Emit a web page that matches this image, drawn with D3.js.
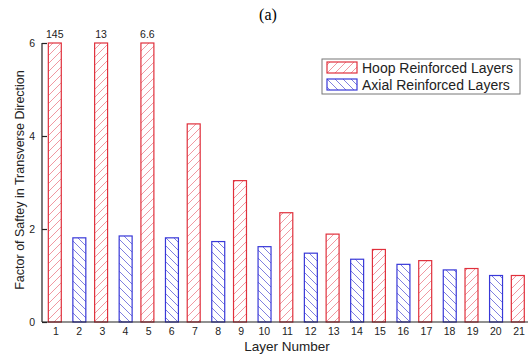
<!DOCTYPE html>
<html>
<head>
<meta charset="utf-8">
<script src="https://cdn.jsdelivr.net/npm/d3@7/dist/d3.min.js"></script>
<style>
  html, body { margin: 0; padding: 0; background: #fff; }
  svg { display: block; font-family: Arial, "Liberation Sans", sans-serif; }
</style>
</head>
<body>
<svg id="chart" width="528" height="360"></svg>
<script>
// Layers 1..21: odd layers are hoop reinforced, even layers are axial reinforced
const hoopLayers  = [1, 3, 5, 7, 9, 11, 13, 15, 17, 19, 21];
const hoopValues  = [145, 13, 6.6, 4.26, 3.04, 2.35, 1.89, 1.56, 1.32, 1.15, 1.00];
const axialLayers = [2, 4, 6, 8, 10, 12, 14, 16, 18, 20];
const axialValues = [1.81, 1.85, 1.81, 1.73, 1.62, 1.48, 1.35, 1.24, 1.12, 1.00];
const xTicks = d3.range(1, 22);
const yTicks = [0, 2, 4, 6];
const seriesNames = ["Hoop Reinforced Layers", "Axial Reinforced Layers"];

const FONT = "Arial, 'Liberation Sans', sans-serif";
const svg = d3.select("#chart");

const x = d3.scaleLinear().domain([1, 21]).range([55.5, 518.5]);
const y = d3.scaleLinear().domain([0, 6]).range([322, 43]).clamp(true);
const barW = x(1.56) - x(1);
const groupOffset = 0.03;

// Hatch patterns
const defs = svg.append("defs");
function hatch(id, color, dir) {
  const p = defs.append("pattern")
    .attr("id", id)
    .attr("patternUnits", "userSpaceOnUse")
    .attr("width", 8).attr("height", 8);
  p.append("rect").attr("width", 8).attr("height", 8).attr("fill", "#fff");
  const d = dir > 0
    ? "M-2,2 L2,-2 M0,8 L8,0 M6,10 L10,6"
    : "M-2,6 L2,10 M0,0 L8,8 M6,-2 L10,2";
  p.append("path").attr("d", d).attr("stroke", color).attr("stroke-width", 0.9).attr("fill", "none");
}
hatch("hoopHatch", "#ee8c96", 1);
hatch("axialHatch", "#7070dc", -1);

const series = [
  { layers: hoopLayers, values: hoopValues, off: -groupOffset, stroke: "#e0303c", fill: "url(#hoopHatch)" },
  { layers: axialLayers, values: axialValues, off: groupOffset, stroke: "#3838d8", fill: "url(#axialHatch)" }
];

series.forEach(s => {
  svg.append("g").selectAll("rect")
    .data(s.layers.map((l, i) => ({ l, v: s.values[i] })))
    .join("rect")
    .attr("x", d => x(d.l + s.off) - barW / 2)
    .attr("y", d => y(d.v))
    .attr("width", barW)
    .attr("height", d => y(0) - y(d.v))
    .attr("fill", s.fill)
    .attr("stroke", s.stroke)
    .attr("stroke-width", 1.2);
});

// Values of bars that run off the top of the axis
svg.append("g").selectAll("text")
  .data(hoopLayers.map((l, i) => ({ l, v: hoopValues[i] })).filter(d => d.v > 6))
  .join("text")
  .attr("x", d => x(d.l - groupOffset))
  .attr("y", 37.5)
  .attr("text-anchor", "middle")
  .attr("font-size", 10.5)
  .attr("fill", "#222")
  .text(d => d.v);

// Axes
const xAxis = d3.axisBottom(x).tickValues(xTicks).tickSize(0).tickPadding(6).tickFormat(d3.format("d"));
const gx = svg.append("g").attr("transform", `translate(0,${y(0)})`).call(xAxis);
gx.select(".domain").attr("d", "M42,0H528").attr("stroke", "#222").attr("stroke-width", 1.2);
gx.selectAll("text").attr("font-size", 10.5).attr("fill", "#222").attr("font-family", FONT);

const yAxis = d3.axisLeft(y).tickValues(yTicks).tickSize(-5).tickPadding(7).tickFormat(d3.format("d"));
const gy = svg.append("g").attr("transform", "translate(42,0)").call(yAxis);
gy.select(".domain").attr("d", `M0,${y(6)}V${y(0)}`).attr("stroke", "#222").attr("stroke-width", 1.2);
gy.selectAll(".tick line").attr("stroke", "#222").attr("stroke-width", 1.2);
gy.selectAll("text").attr("font-size", 10.5).attr("fill", "#222").attr("font-family", FONT);

// Axis titles
svg.append("text")
  .attr("x", 287).attr("y", 350.5)
  .attr("text-anchor", "middle")
  .attr("font-size", 13.5)
  .attr("fill", "#222")
  .text("Layer Number");

svg.append("text")
  .attr("transform", "translate(24,180) rotate(-90)")
  .attr("text-anchor", "middle")
  .attr("font-size", 12.5)
  .attr("fill", "#222")
  .text("Factor of Saftey in Transverse Direction");

// Panel title
svg.append("text")
  .attr("x", 268).attr("y", 20)
  .attr("text-anchor", "middle")
  .attr("font-family", "'Liberation Serif', 'Times New Roman', serif")
  .attr("font-size", 16)
  .attr("fill", "#000")
  .text("(a)");

// Legend
const legend = svg.append("g");
legend.append("rect")
  .attr("x", 322).attr("y", 59).attr("width", 198).attr("height", 35)
  .attr("fill", "#fff").attr("stroke", "#777").attr("stroke-width", 1);
series.forEach((s, i) => {
  const ly = 62 + i * 17;
  legend.append("rect")
    .attr("x", 327).attr("y", ly).attr("width", 30).attr("height", 11)
    .attr("fill", s.fill).attr("stroke", s.stroke).attr("stroke-width", 1.2);
  legend.append("text")
    .attr("x", 362).attr("y", ly + 11)
    .attr("font-size", 14)
    .attr("fill", "#222")
    .text(seriesNames[i]);
});
</script>
</body>
</html>
